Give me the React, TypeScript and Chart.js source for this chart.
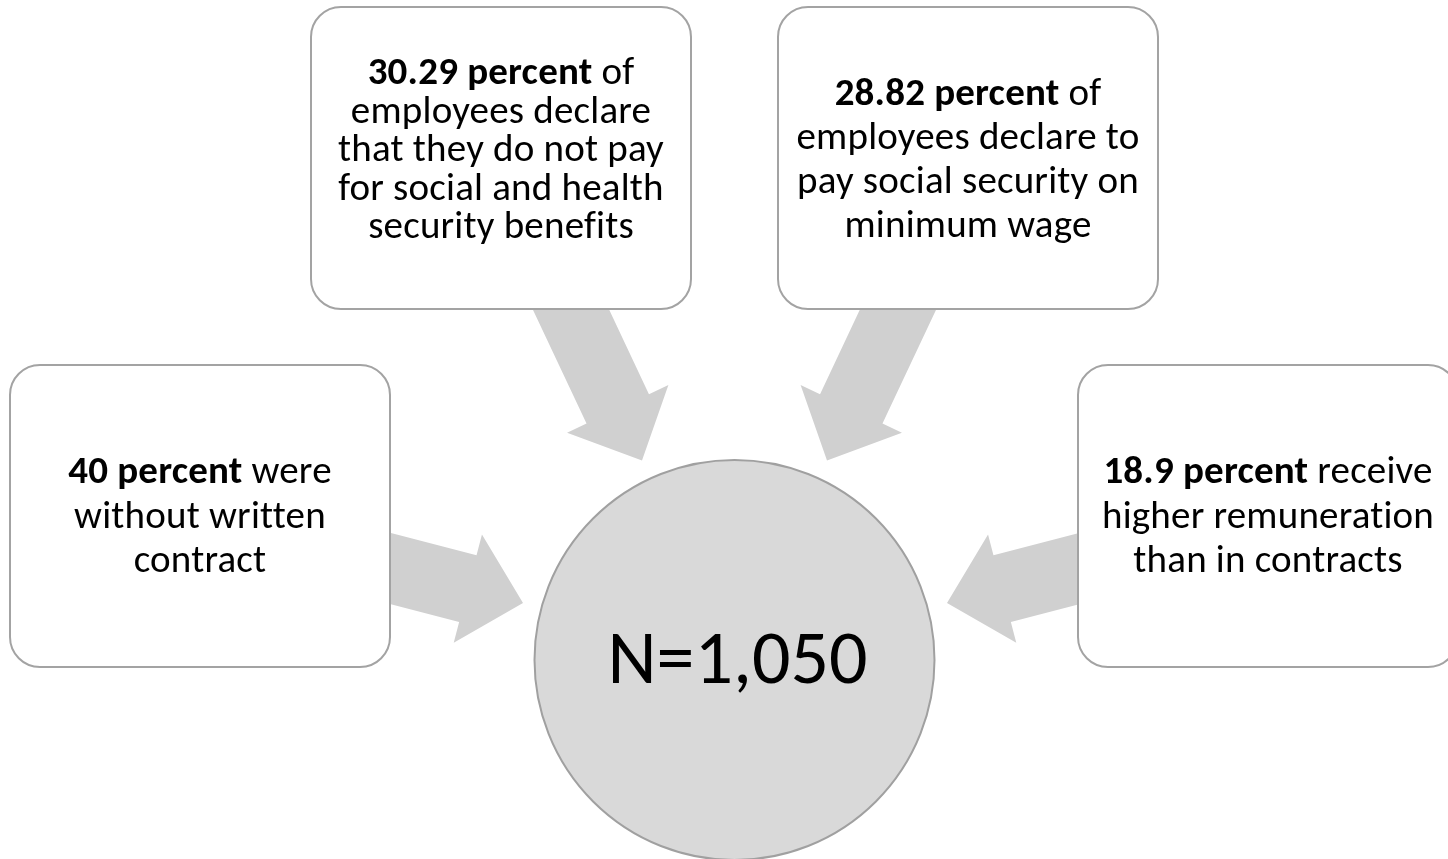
import React, { useEffect, useRef } from "react";
import { Chart, registerables } from "chart.js";

Chart.register(...registerables);

// Survey findings (percent of employees) and the sample size
const FINDING_VALUES = [40, 30.29, 28.82, 18.9];
const FINDING_TEXT: string[][] = [
  ["were", "without written", "contract"],
  ["of", "employees declare", "that they do not pay", "for social and health", "security benefits"],
  ["of", "employees declare to", "pay social security on", "minimum wage"],
  ["receive", "higher remuneration", "than in contracts"],
];
const SAMPLE_SIZE = 1050;

// Diagram layout in canvas units (x: 0..1448, y: 0..859 downwards)
const W = 1448;
const H = 859;
const BOXES = [
  { x: 10, y: 365, w: 380, h: 302, base: 483, gap: 44.5 },
  { x: 311, y: 7, w: 380, h: 302, base: 84, gap: 38.5 },
  { x: 778, y: 7, w: 380, h: 302, base: 105, gap: 44 },
  { x: 1078, y: 365, w: 380, h: 302, base: 483, gap: 44.5 },
];
// arrows: tip point and heading (degrees, 0 = pointing right, y downwards)
const ARROWS = [
  { tx: 523, ty: 603, deg: 14.6 },
  { tx: 642, ty: 460.5, deg: 64.8 },
  { tx: 827, ty: 460.5, deg: 115.2 },
  { tx: 947, ty: 603, deg: 165.4 },
];
const HUB = { cx: 734.5, cy: 660, r: 200, base: 683 };

const FONT = "Carlito, Calibri, Lato, 'Liberation Sans', sans-serif";
const BODY_PX = 39;
const HUB_PX = 76;

const diagramPlugin = {
  id: "findingsDiagram",
  afterDraw(chart: any) {
    const { ctx } = chart;
    const sx = chart.scales.x;
    const sy = chart.scales.y;
    const px = (v: number) => sx.getPixelForValue(v);
    const py = (v: number) => sy.getPixelForValue(v);
    const k = (px(100) - px(0)) / 100;

    ctx.save();

    // arrows
    ctx.fillStyle = "#d0d0d0";
    ARROWS.forEach((a) => {
      const ang = (a.deg * Math.PI) / 180;
      const dx = Math.cos(ang);
      const dy = Math.sin(ang);
      const nx = -dy;
      const ny = dx;
      const len = 210;
      const shaft = 69 / 2;
      const head = 112 / 2;
      const headLen = 57;
      const tx = a.tx;
      const ty = a.ty;
      const bx = tx - dx * headLen;
      const by = ty - dy * headLen;
      const ex = tx - dx * len;
      const ey = ty - dy * len;
      const pts = [
        [ex + nx * shaft, ey + ny * shaft],
        [bx + nx * shaft, by + ny * shaft],
        [bx + nx * head, by + ny * head],
        [tx, ty],
        [bx - nx * head, by - ny * head],
        [bx - nx * shaft, by - ny * shaft],
        [ex - nx * shaft, ey - ny * shaft],
      ];
      ctx.beginPath();
      pts.forEach(([x, y], i) => {
        if (i === 0) ctx.moveTo(px(x), py(y));
        else ctx.lineTo(px(x), py(y));
      });
      ctx.closePath();
      ctx.fill();
    });

    // boxes with their text
    BOXES.forEach((b, i) => {
      const x0 = px(b.x);
      const y0 = py(b.y);
      const w = b.w * k;
      const h = b.h * k;
      ctx.beginPath();
      ctx.roundRect(x0, y0, w, h, 30 * k);
      ctx.fillStyle = "#ffffff";
      ctx.fill();
      ctx.lineWidth = 2;
      ctx.strokeStyle = "#a3a3a3";
      ctx.stroke();

      const cx = x0 + w / 2;
      const lead = `${FINDING_VALUES[i]} percent`;
      const lines = FINDING_TEXT[i];
      ctx.fillStyle = "#000000";
      ctx.textBaseline = "alphabetic";
      ctx.textAlign = "left";
      // a tiny letter spacing keeps "ti"/"fi" as separate glyphs
      if ("letterSpacing" in ctx) ctx.letterSpacing = "0.2px";
      lines.forEach((line, j) => {
        const y = py(b.base + j * b.gap);
        const reg = `${BODY_PX * k}px ${FONT}`;
        const bold = `bold ${BODY_PX * k}px ${FONT}`;
        if (j === 0) {
          ctx.font = bold;
          const wb = ctx.measureText(lead).width;
          ctx.font = reg;
          const rest = " " + line;
          const wr = ctx.measureText(rest).width;
          const start = cx - (wb + wr) / 2;
          ctx.font = bold;
          ctx.fillText(lead, start, y);
          ctx.font = reg;
          ctx.fillText(rest, start + wb, y);
        } else {
          ctx.font = reg;
          const wl = ctx.measureText(line).width;
          ctx.fillText(line, cx - wl / 2, y);
        }
      });
      if ("letterSpacing" in ctx) ctx.letterSpacing = "0px";
    });

    // central circle with the sample size
    ctx.beginPath();
    ctx.arc(px(HUB.cx), py(HUB.cy), HUB.r * k, 0, Math.PI * 2);
    ctx.fillStyle = "#d9d9d9";
    ctx.fill();
    ctx.lineWidth = 2;
    ctx.strokeStyle = "#a0a0a0";
    ctx.stroke();

    ctx.fillStyle = "#000000";
    ctx.font = `${HUB_PX * k}px ${FONT}`;
    ctx.textAlign = "center";
    ctx.textBaseline = "alphabetic";
    ctx.fillText(`N=${SAMPLE_SIZE.toLocaleString("en-US")}`, px(HUB.cx + 3), py(HUB.base));

    ctx.restore();
  },
};

export default function App() {
  const ref = useRef<HTMLCanvasElement | null>(null);

  useEffect(() => {
    document.body.style.margin = "0";
    const canvas = ref.current;
    if (!canvas) return;
    const chart = new Chart(canvas, {
      type: "scatter",
      data: {
        datasets: [
          {
            label: "Share of employees (%)",
            data: BOXES.map((b, i) => ({ x: b.x + b.w / 2, y: b.y + b.h / 2, v: FINDING_VALUES[i] })),
            pointRadius: 0,
            pointHoverRadius: 0,
          },
        ],
      },
      options: {
        animation: false,
        responsive: false,
        maintainAspectRatio: false,
        layout: { padding: 0 },
        events: [],
        plugins: {
          legend: { display: false },
          tooltip: { enabled: false },
          title: { display: false },
        },
        scales: {
          x: { type: "linear", min: 0, max: W, display: false },
          y: { type: "linear", min: 0, max: H, reverse: true, display: false },
        },
      },
      plugins: [diagramPlugin],
    });
    return () => chart.destroy();
  }, []);

  return (
    <div style={{ width: W, height: H, background: "#ffffff" }}>
      <canvas ref={ref} width={W} height={H} style={{ display: "block", width: W, height: H }} />
    </div>
  );
}
